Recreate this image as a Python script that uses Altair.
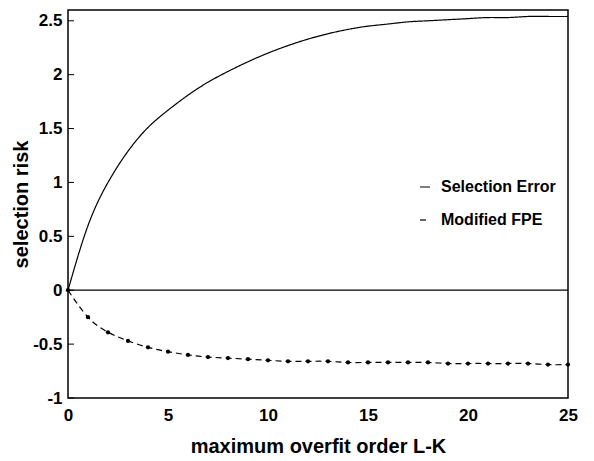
import altair as alt
import pandas as pd

order = list(range(26))
selection_error = [0.0, 0.60, 1.0, 1.29, 1.51, 1.67, 1.81, 1.93, 2.03, 2.12,
                   2.20, 2.27, 2.33, 2.38, 2.42, 2.45, 2.47, 2.49, 2.50, 2.51,
                   2.52, 2.53, 2.53, 2.54, 2.54, 2.54]
modified_fpe = [0.0, -0.25, -0.39, -0.47, -0.53, -0.57, -0.60, -0.62, -0.63, -0.64,
                -0.65, -0.66, -0.66, -0.66, -0.67, -0.67, -0.67, -0.67, -0.67, -0.68,
                -0.68, -0.68, -0.68, -0.68, -0.69, -0.69]
series_names = ["Selection Error", "Modified FPE"]
y_ticks = [-1, -0.5, 0, 0.5, 1, 1.5, 2, 2.5]
x_ticks = [0, 5, 10, 15, 20, 25]

rows = []
for i, o in enumerate(order):
    rows.append({"order": o, "risk": selection_error[i], "series": series_names[0]})
    rows.append({"order": o, "risk": modified_fpe[i], "series": series_names[1]})
df = pd.DataFrame(rows)
fpe_df = df[df.series == series_names[1]]
ticks_df = pd.DataFrame({"v": y_ticks})
zero_df = pd.DataFrame({"v": [0]})

FONT = "Liberation Sans"

x_enc = alt.X("order:Q", scale=alt.Scale(domain=[0, 25], nice=False, zero=False),
              axis=alt.Axis(values=x_ticks, title="maximum overfit order L-K", grid=False,
                            ticks=False, domain=False, labelFont=FONT, labelFontSize=17,
                            labelFontWeight="bold", labelColor="black", labelPadding=9,
                            titleFont=FONT, titleFontSize=20, titleFontWeight="bold",
                            titleColor="black", titlePadding=13, labelFlush=False))
y_scale = alt.Scale(domain=[-1, 2.6], nice=False, zero=False)
y_enc = alt.Y("risk:Q", scale=y_scale,
              axis=alt.Axis(values=y_ticks, title="selection risk", grid=False,
                            ticks=False, domain=False, labelFont=FONT, labelFontSize=17,
                            labelFontWeight="bold", labelColor="black", labelPadding=6,
                            labelExpr="datum.value + ''",
                            titleFont=FONT, titleFontSize=20, titleFontWeight="bold",
                            titleColor="black", titlePadding=1))

lines = alt.Chart(df).mark_line(color="black", strokeWidth=1.2, interpolate="natural").encode(
    x=x_enc,
    y=y_enc,
    strokeDash=alt.StrokeDash(
        "series:N",
        scale=alt.Scale(domain=series_names, range=[[1, 0], [6, 4]]),
        legend=alt.Legend(title=None, orient="none", legendX=349, legendY=169,
                          symbolType="stroke", symbolSize=100, symbolStrokeColor="black",
                          symbolStrokeWidth=1.2, labelFont=FONT, labelFontSize=16,
                          labelFontWeight="bold", labelColor="black", rowPadding=17,
                          labelOffset=8),
    ),
)

points = alt.Chart(fpe_df).mark_point(filled=True, color="black", size=18, opacity=1).encode(
    x="order:Q", y="risk:Q"
)

zero_line = alt.Chart(zero_df).mark_rule(color="black", strokeWidth=1.2).encode(
    y=alt.Y("v:Q", scale=y_scale)
)

tick_marks = alt.Chart(ticks_df).mark_rule(color="black", strokeWidth=1).encode(
    y=alt.Y("v:Q", scale=y_scale), x=alt.value(0), x2=alt.value(6)
)

chart = alt.layer(zero_line, tick_marks, lines, points).properties(
    width=500, height=388,
    background="white",
    autosize=alt.AutoSizeParams(type="none"),
    padding={"left": 60, "top": 2, "right": 18, "bottom": 62},
).configure_view(stroke="black", strokeWidth=1.5)

chart.save("out.html", embed_options={"renderer": "svg", "actions": False})
